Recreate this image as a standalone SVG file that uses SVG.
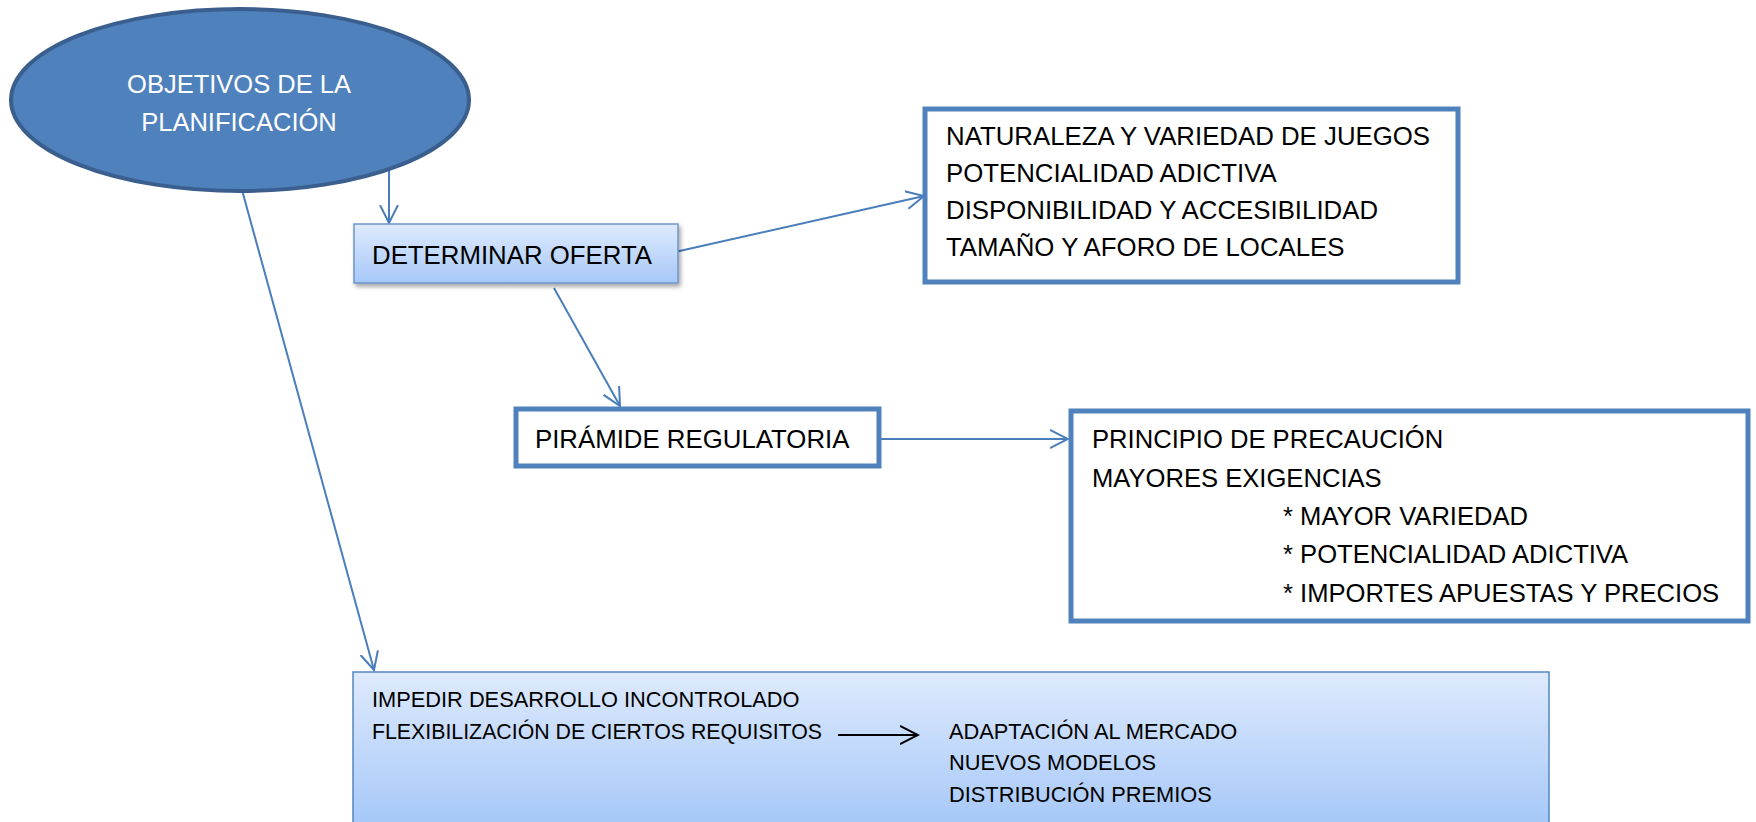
<svg xmlns="http://www.w3.org/2000/svg" width="1756" height="822" viewBox="0 0 1756 822">
<style>
.t{font-family:"Liberation Sans",Arial,sans-serif;fill:#000}
.w{font-family:"Liberation Sans",Arial,sans-serif;fill:#fff}
.box{fill:#fff;stroke:#4F81BD;stroke-width:5}
.con{stroke:#4A7EBB;stroke-width:2;fill:none}
</style>
<defs>
<linearGradient id="g1" x1="0" y1="0" x2="0" y2="1">
<stop offset="0" stop-color="#DEEAFD"/>
<stop offset="1" stop-color="#A6C8F8"/>
</linearGradient>
<filter id="sh" x="-5%" y="-10%" width="115%" height="130%">
<feDropShadow dx="2" dy="3" stdDeviation="2" flood-color="#000" flood-opacity="0.35"/>
</filter>
<marker id="a" viewBox="0 0 20 20" refX="18" refY="10" markerWidth="20" markerHeight="20" markerUnits="userSpaceOnUse" orient="auto">
<path d="M0,1 L18,10 L0,19" fill="none" stroke="#4A7EBB" stroke-width="2"/>
</marker>
<marker id="ab" viewBox="0 0 20 20" refX="18" refY="10" markerWidth="20" markerHeight="20" markerUnits="userSpaceOnUse" orient="auto">
<path d="M0,1 L18,10 L0,19" fill="none" stroke="#000" stroke-width="2"/>
</marker>
</defs>
<rect width="1756" height="822" fill="#fff"/>

<g id="connectors">
<line class="con" x1="389" y1="168" x2="389" y2="223" marker-end="url(#a)"/>
<line class="con" x1="242" y1="190" x2="374" y2="670" marker-end="url(#a)"/>
<line class="con" x1="675" y1="252" x2="924" y2="196" marker-end="url(#a)"/>
<line class="con" x1="554" y1="288" x2="620" y2="406" marker-end="url(#a)"/>
<line class="con" x1="880" y1="439" x2="1068" y2="439" marker-end="url(#a)"/>
</g>

<g id="objetivos">
<ellipse cx="240" cy="100" rx="229" ry="91" fill="#4F81BD" stroke="#3A5F8E" stroke-width="4"/>
<text class="w" x="239" y="93" font-size="25.5" text-anchor="middle">OBJETIVOS DE LA</text>
<text class="w" x="239" y="131" font-size="25.5" text-anchor="middle">PLANIFICACIÓN</text>
</g>

<g id="determinar">
<rect x="354" y="224" width="324" height="59" fill="url(#g1)" stroke="#6E95CC" stroke-width="1.5" filter="url(#sh)"/>
<text class="t" x="372" y="264" font-size="25.8">DETERMINAR OFERTA</text>
</g>

<g id="naturaleza">
<rect class="box" x="925" y="109" width="533" height="173"/>
<text class="t" x="946" y="145" font-size="25.8">NATURALEZA Y VARIEDAD DE JUEGOS</text>
<text class="t" x="946" y="182" font-size="25.8">POTENCIALIDAD ADICTIVA</text>
<text class="t" x="946" y="219" font-size="25.8">DISPONIBILIDAD Y ACCESIBILIDAD</text>
<text class="t" x="946" y="256" font-size="25.8">TAMAÑO Y AFORO DE LOCALES</text>
</g>

<g id="piramide">
<rect class="box" x="516" y="409" width="363" height="57"/>
<text class="t" x="535" y="448" font-size="25.8">PIRÁMIDE REGULATORIA</text>
</g>

<g id="principio">
<rect class="box" x="1071" y="411" width="677" height="210"/>
<text class="t" x="1092" y="448" font-size="25.6">PRINCIPIO DE PRECAUCIÓN</text>
<text class="t" x="1092" y="487" font-size="25.6">MAYORES EXIGENCIAS</text>
<text class="t" x="1283" y="525" font-size="25.6">* MAYOR VARIEDAD</text>
<text class="t" x="1283" y="563" font-size="25.6">* POTENCIALIDAD ADICTIVA</text>
<text class="t" x="1283" y="602" font-size="25.6">* IMPORTES APUESTAS Y PRECIOS</text>
</g>

<g id="impedir">
<rect x="353" y="672" width="1196" height="152" fill="url(#g1)" stroke="#5585C0" stroke-width="1.5"/>
<text class="t" x="372" y="707" font-size="21.8">IMPEDIR DESARROLLO INCONTROLADO</text>
<text class="t" x="372" y="739" font-size="21.8" textLength="450" lengthAdjust="spacingAndGlyphs">FLEXIBILIZACIÓN DE CIERTOS REQUISITOS</text>
<line x1="838" y1="735" x2="918" y2="735" stroke="#000" stroke-width="2" marker-end="url(#ab)"/>
<text class="t" x="949" y="739" font-size="21.8">ADAPTACIÓN AL MERCADO</text>
<text class="t" x="949" y="770" font-size="21.8">NUEVOS MODELOS</text>
<text class="t" x="949" y="802" font-size="21.8">DISTRIBUCIÓN PREMIOS</text>
</g>
</svg>
